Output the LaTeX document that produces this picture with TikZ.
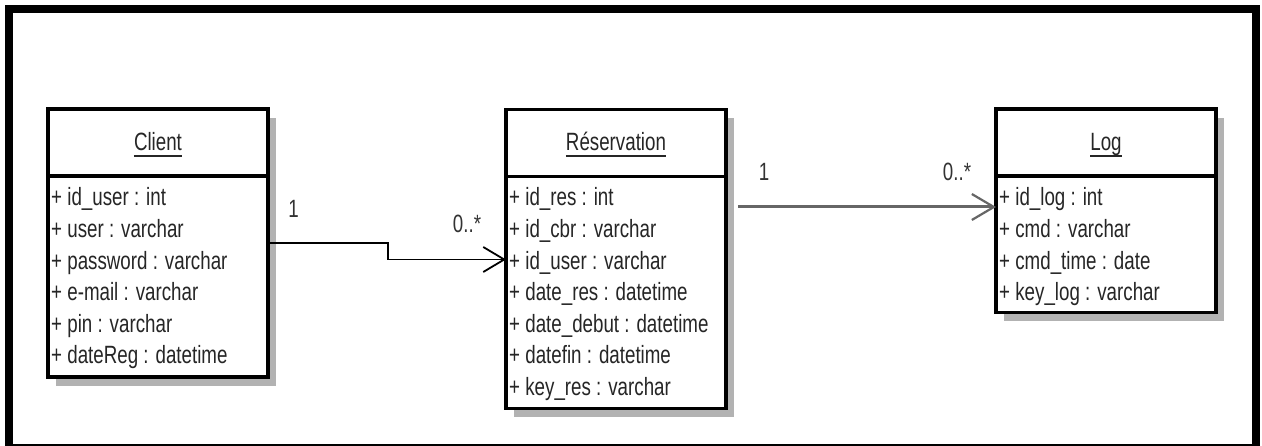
\documentclass[tikz,border=0pt]{standalone}
\usepackage{fontspec}
\setmainfont[FakeStretch=0.75]{Liberation Sans}
\usetikzlibrary{arrows.meta,shadows}

\begin{document}
\begin{tikzpicture}[x=1pt,y=-1pt,
  every node/.style={font=\fontsize{25}{30}\selectfont, text=black!85, inner sep=0pt},
  classbox/.style={draw=black, line width=3.5pt, fill=white, outer sep=0pt,
    minimum width=220pt, anchor=north west,
    general shadow={fill=black!30, shadow xshift=8pt, shadow yshift=-9pt}},
  divider/.style={line width=3.5pt},
  classname/.style={anchor=base},
  uline/.style={line width=1.5pt, draw=black!85},
  attr/.style={anchor=base west},
  mult/.style={anchor=base, text=black!80},
  assoc/.style={line width=1.8pt,
    -{Straight Barb[length=21pt,width=25pt,line width=1.8pt]}},
  assocgray/.style={draw=black!60, line width=3pt,
    -{Straight Barb[length=22pt,width=26pt,line width=2.2pt]}},
]
% page and frame
\useasboundingbox (0,0) rectangle (1262,446);
\fill[white] (0,0) rectangle (1262,446);
\draw[line width=8pt] (9,9) rectangle (1256,447.5);

% ---- Client ----
\node[classbox, minimum height=268pt] (client) at (48,109) {};
\draw[divider] ([yshift=-67pt]client.north west) -- ([yshift=-67pt]client.north east);
\node[classname] (clientname) at ([yshift=-42pt]client.north) {Client};
\draw[uline] ([yshift=-5pt]clientname.base west) -- ([yshift=-5pt]clientname.base east);
\foreach \txt [count=\i] in {+ id\_user : int, + user : varchar, + password : varchar,
    + e-mail : varchar, + pin : varchar, + dateReg : datetime}
  \node[attr] (client-\i) at ([xshift=3pt, yshift={-(97+(\i-1)*31.6)*1pt}]client.north west) {\txt};

% ---- Reservation ----
\node[classbox, minimum height=299pt] (res) at (506,109.5) {};
\draw[divider] ([yshift=-67pt]res.north west) -- ([yshift=-67pt]res.north east);
\node[classname] (resname) at ([yshift=-41.5pt]res.north) {Réservation};
\draw[uline] ([yshift=-5pt]resname.base west) -- ([yshift=-5pt]resname.base east);
\foreach \txt [count=\i] in {+ id\_res : int, + id\_cbr : varchar, + id\_user : varchar,
    + date\_res : datetime, + date\_debut : datetime, + datefin : datetime,
    + key\_res : varchar}
  \node[attr] (res-\i) at ([xshift=3pt, yshift={-(96.5+(\i-1)*31.6)*1pt}]res.north west) {\txt};

% ---- Log ----
\node[classbox, minimum height=203.5pt] (log) at (996,109) {};
\draw[divider] ([yshift=-67pt]log.north west) -- ([yshift=-67pt]log.north east);
\node[classname] (logname) at ([yshift=-42pt]log.north) {Log};
\draw[uline] ([yshift=-5pt]logname.base west) -- ([yshift=-5pt]logname.base east);
\foreach \txt [count=\i] in {+ id\_log : int, + cmd : varchar, + cmd\_time : date,
    + key\_log : varchar}
  \node[attr] (log-\i) at ([xshift=3pt, yshift={-(97+(\i-1)*31.6)*1pt}]log.north west) {\txt};

% ---- associations ----
\draw[assoc] ([yshift=-134pt]client.north east) -- ++(120,0)
  |- ([yshift=-150pt]res.north west);
\draw[assocgray] ([xshift=12pt, yshift=-97.5pt]res.north east)
  -- ([yshift=-98pt]log.north west);

% multiplicities
\node[mult] (m1) at (293.5,218) {1};
\node[mult] (m2) at (467,233) {0..*};
\node[mult] (m3) at (764,181) {1};
\node[mult] (m4) at (957,181) {0..*};
\end{tikzpicture}
\end{document}
